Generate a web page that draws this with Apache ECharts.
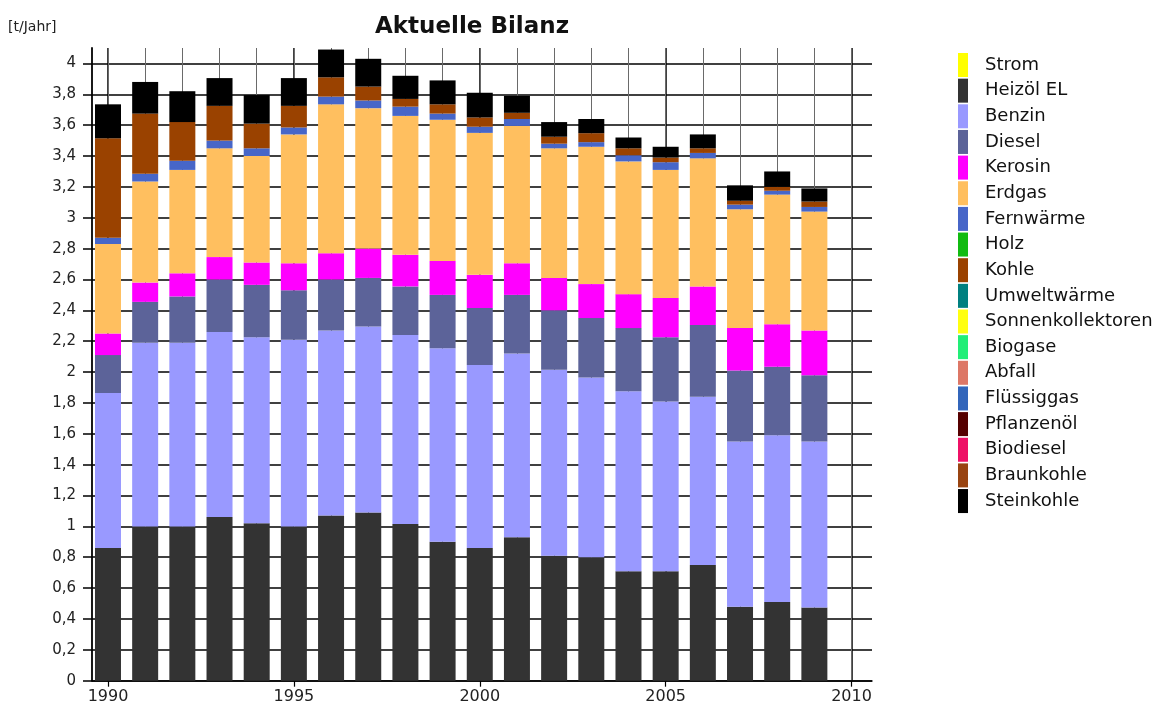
<!DOCTYPE html>
<html>
<head>
<meta charset="utf-8">
<script src="https://cdn.jsdelivr.net/npm/echarts@6/dist/echarts.min.js"></script>
<style>
html,body{margin:0;padding:0;background:#fff;}
#chart{width:1169px;height:709px;}
</style>
</head>
<body>
<div id="chart"></div>
<script>
// ---- data ----
const years = [1990,1991,1992,1993,1994,1995,1996,1997,1998,1999,2000,2001,2002,2003,2004,2005,2006,2007,2008,2009];
const strom      = [0,0,0,0,0,0,0,0,0,0,0,0,0,0,0,0,0,0,0,0];
const heizoel    = [0.86,1.00,1.00,1.06,1.02,1.00,1.07,1.09,1.015,0.90,0.86,0.93,0.81,0.80,0.71,0.71,0.75,0.48,0.51,0.475];
const benzin     = [1.005,1.19,1.19,1.20,1.205,1.21,1.20,1.205,1.225,1.255,1.185,1.19,1.205,1.165,1.165,1.10,1.09,1.07,1.08,1.075];
const diesel     = [0.245,0.265,0.30,0.34,0.34,0.32,0.33,0.315,0.315,0.345,0.37,0.38,0.385,0.385,0.41,0.415,0.465,0.46,0.445,0.43];
const kerosin    = [0.14,0.125,0.15,0.145,0.145,0.175,0.17,0.19,0.205,0.22,0.215,0.205,0.21,0.22,0.22,0.255,0.25,0.275,0.275,0.29];
const erdgas     = [0.58,0.655,0.67,0.705,0.69,0.835,0.965,0.91,0.90,0.915,0.92,0.89,0.84,0.89,0.86,0.83,0.83,0.77,0.84,0.77];
const fernwaerme = [0.04,0.05,0.06,0.05,0.05,0.045,0.05,0.05,0.06,0.04,0.04,0.045,0.03,0.03,0.04,0.05,0.035,0.03,0.025,0.03];
const holz       = [0,0,0,0,0,0,0,0,0,0,0,0,0,0,0,0,0,0,0,0];
const kohle      = [0.645,0.39,0.25,0.225,0.16,0.14,0.125,0.09,0.05,0.06,0.06,0.04,0.045,0.058,0.045,0.03,0.03,0.025,0.025,0.035];
const umwelt     = [0,0,0,0,0,0,0,0,0,0,0,0,0,0,0,0,0,0,0,0];
const sonnen     = [0,0,0,0,0,0,0,0,0,0,0,0,0,0,0,0,0,0,0,0];
const biogase    = [0,0,0,0,0,0,0,0,0,0,0,0,0,0,0,0,0,0,0,0];
const abfall     = [0,0,0,0,0,0,0,0,0,0,0,0,0,0,0,0,0,0,0,0];
const fluessig   = [0,0,0,0,0,0,0,0,0,0,0,0,0,0,0,0,0,0,0,0];
const pflanzen   = [0,0,0,0,0,0,0,0,0,0,0,0,0,0,0,0,0,0,0,0];
const biodiesel  = [0,0,0,0,0,0,0,0,0,0,0,0,0,0,0,0,0,0,0,0];
const braunkohle = [0,0,0,0,0,0,0,0,0,0,0,0,0,0,0,0,0,0,0,0];
const steinkohle = [0.22,0.205,0.20,0.18,0.185,0.18,0.18,0.18,0.15,0.155,0.16,0.11,0.095,0.092,0.07,0.07,0.09,0.10,0.10,0.085];

const yTicks = [0,0.2,0.4,0.6,0.8,1,1.2,1.4,1.6,1.8,2,2.2,2.4,2.6,2.8,3,3.2,3.4,3.6,3.8,4];
const xLabelYears = [1990,1995,2000,2005,2010];
const xMinorYears = [1990,1991,1992,1993,1994,1995,1996,1997,1998,1999,2000,2001,2002,2003,2004,2005,2006,2007,2008,2009,2010];

const seriesDefs = [
  ['Strom', strom, '#ffff00'],
  ['Heizöl EL', heizoel, '#333333'],
  ['Benzin', benzin, '#9999ff'],
  ['Diesel', diesel, '#5c6399'],
  ['Kerosin', kerosin, '#ff00ff'],
  ['Erdgas', erdgas, '#ffbf5f'],
  ['Fernwärme', fernwaerme, '#4766c8'],
  ['Holz', holz, '#11bb11'],
  ['Kohle', kohle, '#9a4200'],
  ['Umweltwärme', umwelt, '#008080'],
  ['Sonnenkollektoren', sonnen, '#ffff10'],
  ['Biogase', biogase, '#22ee77'],
  ['Abfall', abfall, '#dd7766'],
  ['Flüssiggas', fluessig, '#3366bb'],
  ['Pflanzenöl', pflanzen, '#550000'],
  ['Biodiesel', biodiesel, '#ee1166'],
  ['Braunkohle', braunkohle, '#994411'],
  ['Steinkohle', steinkohle, '#000000']
];

const FONT = 'DejaVu Sans';
const chart = echarts.init(document.getElementById('chart'), null, {renderer: 'canvas'});

// value first, year second -> stack on the value dimension
const series = seriesDefs.map(([name, vals, color]) => ({
  name: name,
  type: 'bar',
  stack: 'total',
  xAxisIndex: 0,
  yAxisIndex: 0,
  barWidth: 26,
  encode: {x: 1, y: 0},
  itemStyle: {color: color},
  data: years.map((y, i) => [vals[i], y])
}));

const option = {
  backgroundColor: '#ffffff',
  animation: false,
  title: {
    text: 'Aktuelle Bilanz',
    left: 370,
    top: 11,
    textStyle: {fontFamily: FONT, fontWeight: 'bold', fontSize: 23, color: '#111'}
  },
  graphic: [{
    type: 'text',
    left: 8,
    top: 20,
    style: {text: '[t/Jahr]', font: '14px "DejaVu Sans"', fill: '#222'}
  }],
  legend: {
    orient: 'vertical',
    left: 958,
    top: 53,
    padding: 0,
    itemWidth: 10,
    itemHeight: 24,
    itemGap: 1.65,
    icon: 'rect',
    selectedMode: false,
    data: seriesDefs.map(d => d[0]),
    textStyle: {fontFamily: FONT, fontSize: 18, color: '#111', padding: [0, 0, 0, 12]}
  },
  grid: {left: 92, right: 297, top: 48, bottom: 28.3, containLabel: false},
  xAxis: [{
    type: 'value',
    min: 1989.57,
    max: 2010.55,
    axisLine: {show: true, onZero: false, lineStyle: {color: '#000', width: 1.5}},
    axisTick: {show: true, length: 6, customValues: xLabelYears, lineStyle: {color: '#000', width: 1.2}},
    axisLabel: {customValues: xLabelYears, margin: 8, fontFamily: FONT, fontSize: 16, color: '#222', formatter: v => String(v)},
    splitLine: {show: true, lineStyle: {color: '#000', width: 1.5}}
  }, {
    type: 'value',
    min: 1989.57,
    max: 2010.55,
    position: 'bottom',
    axisLine: {show: false},
    axisTick: {show: false, customValues: xMinorYears},
    axisLabel: {show: false, customValues: xMinorYears},
    splitLine: {show: true, lineStyle: {color: '#6a6a6a', width: 1}}
  }],
  yAxis: {
    type: 'value',
    min: 0,
    max: 4.1,
    axisLine: {show: true, lineStyle: {color: '#000', width: 1.8}},
    axisTick: {show: true, length: 9, customValues: yTicks, lineStyle: {color: '#000', width: 1.5}},
    axisLabel: {customValues: yTicks, margin: 16, fontFamily: FONT, fontSize: 15, color: '#222',
      formatter: v => String(Math.round(v * 10) / 10).replace('.', ',')},
    splitLine: {show: true, lineStyle: {color: '#000', width: 1.5}}
  },
  series: series
};
chart.setOption(option);
</script>
</body>
</html>
